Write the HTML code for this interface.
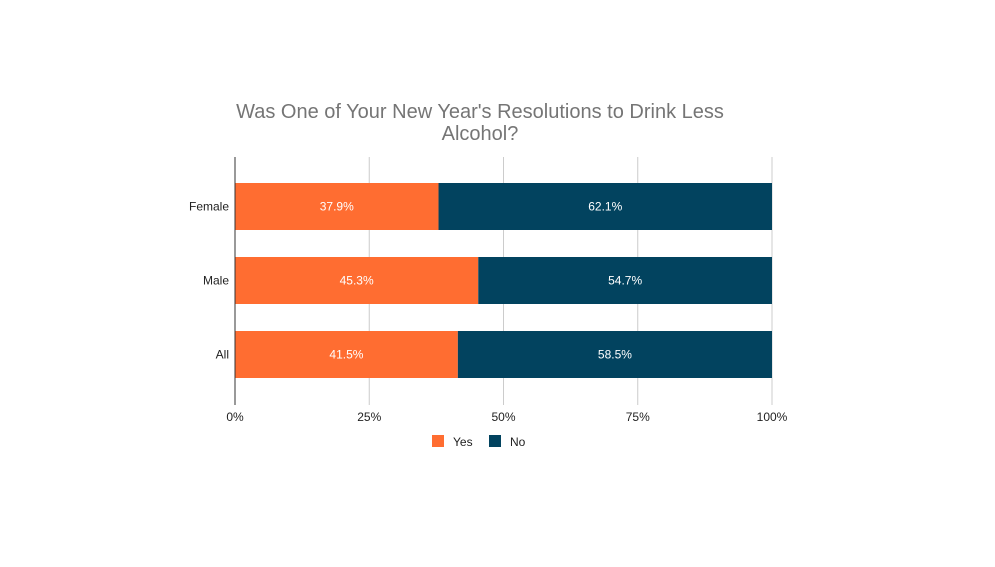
<!DOCTYPE html>
<html><head><meta charset="utf-8"><style>
body{margin:0;background:#fff;font-family:"Liberation Sans",Arial,sans-serif;}
</style></head><body>
<svg width="995" height="562" viewBox="0 0 995 562" id="c">
<rect width="995" height="562" fill="#fff"/>
<text x="480" y="118" text-anchor="middle" font-size="20" fill="#757575">Was One of Your New Year's Resolutions to Drink Less</text>
<text x="480" y="140" text-anchor="middle" font-size="20" fill="#757575">Alcohol?</text>
<g id="grid"></g><g id="bars"></g><g id="labels"></g>
<line x1="235" y1="157" x2="235" y2="405" stroke="#333" stroke-width="1"/>
<g>
<rect x="432" y="435" width="12" height="12" fill="#ff6d31"/>
<text x="453" y="446" font-size="12" fill="#222">Yes</text>
<rect x="489" y="435" width="12" height="12" fill="#02435f"/>
<text x="510" y="446" font-size="12" fill="#222">No</text>
</g>
</svg>
<script>
const categories=["Female","Male","All"];
const yesValues=[37.9,45.3,41.5];
const noValues=[62.1,54.7,58.5];
const tickValues=[0,25,50,75,100];
const tickLabels=["0%","25%","50%","75%","100%"];
const NS="http://www.w3.org/2000/svg";
const x=v=>235+v/100*537;
const yTop=i=>183+i*74;
const bh=47;
function mk(t,a,p){const e=document.createElementNS(NS,t);for(const k in a)e.setAttribute(k,a[k]);p.appendChild(e);return e;}
const g=document.getElementById('grid'),b=document.getElementById('bars'),l=document.getElementById('labels');
tickValues.forEach((v,i)=>{
 if(v>0){const ln=mk('line',{x1:x(v),x2:x(v),y1:157,y2:405,stroke:'#cccccc'},g);
 
 }
 const t=mk('text',{x:x(v),y:421,'text-anchor':'middle','font-size':12,fill:'#222'},l);t.textContent=tickLabels[i];
 
 
});
categories.forEach((c,i)=>{
 const y=yTop(i);
 const cl=mk('text',{x:229,y:y+bh/2+4,'text-anchor':'end','font-size':12,fill:'#222'},l);cl.textContent=c;
 
 
 const r1=mk('rect',{x:x(0),y:y,width:x(yesValues[i])-x(0),height:bh,fill:'#ff6d31'},b);
 
 
 const r2=mk('rect',{x:x(yesValues[i]),y:y,width:x(yesValues[i]+noValues[i])-x(yesValues[i]),height:bh,fill:'#02435f'},b);
 
 
 const t1=mk('text',{x:(x(0)+x(yesValues[i]))/2,y:y+bh/2+4,'text-anchor':'middle','font-size':12,fill:'#fff'},l);t1.textContent=yesValues[i].toFixed(1)+'%';
 
 
 const t2=mk('text',{x:(x(yesValues[i])+x(yesValues[i]+noValues[i]))/2,y:y+bh/2+4,'text-anchor':'middle','font-size':12,fill:'#fff'},l);t2.textContent=noValues[i].toFixed(1)+'%';
 
 
});
</script>
</body></html>
